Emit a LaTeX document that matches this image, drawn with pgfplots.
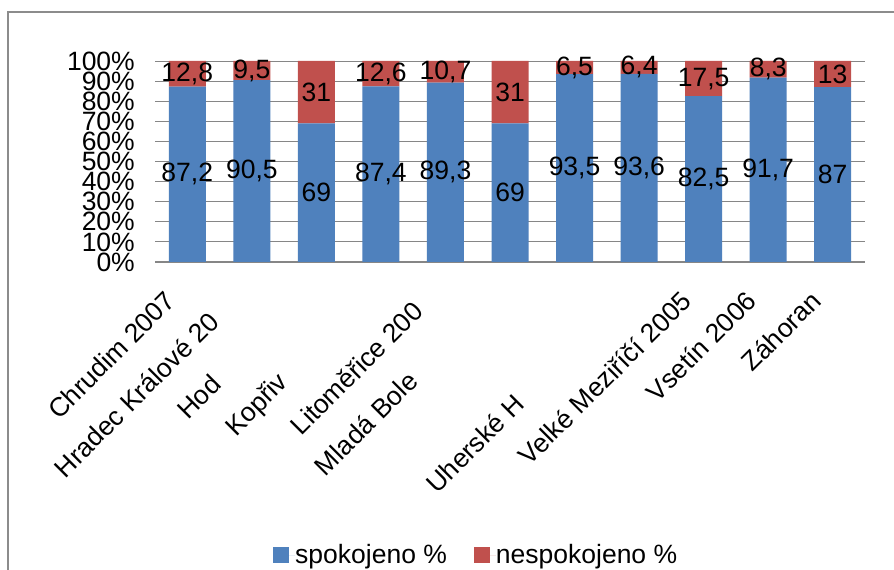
\documentclass[border=0pt]{standalone}
\usepackage{pgfplots}
\pgfplotsset{compat=1.18}
\usepackage{fontspec}
\setmainfont{Liberation Sans}
\definecolor{cBlue}{HTML}{4F81BD}
\definecolor{cRed}{HTML}{C0504D}
\definecolor{cGrid}{HTML}{868686}
\definecolor{cFrame}{HTML}{8C8C8C}
\newcommand{\bigf}{\fontsize{26.5bp}{30bp}\selectfont}
\begin{document}
\begin{tikzpicture}
\useasboundingbox (0,0) rectangle (894bp,570bp);
\fill[white] (0,0) rectangle (894bp,570bp);
\draw[cFrame, line width=1.5bp] (8bp,0) -- (8bp,558bp) -- (894bp,558bp);
\begin{axis}[
  at={(155bp,308bp)}, anchor=south west,
  scale only axis, width=710bp, height=201bp,
  ybar stacked, bar width=37bp,
  xmin=-0.5, xmax=10.5, ymin=0, ymax=100,
  enlargelimits=false,
  axis lines*=left,
  separate axis lines,
  y axis line style={draw=none},
  x axis line style={cGrid, line width=1.2bp},
  tick style={draw=none},
  ymajorgrids, grid style={cGrid, line width=0.8bp},
  ytick={0,10,...,100},
  yticklabels={0\%,10\%,20\%,30\%,40\%,50\%,60\%,70\%,80\%,90\%,100\%},
  yticklabel style={font=\bigf, anchor=east, inner sep=0pt, xshift=-20bp},
  xtick={0,...,10},
  xticklabels={Chrudim 2007,{Hradec Králové 20\phantom{07}},{Hod\phantom{onín 2007}},{Kopřiv\phantom{nice 2007}},{Litoměřice 200\phantom{7}},{Mladá Bole\phantom{slav 2007}},{},{Uherské H\phantom{radiště 2007}},Velké Meziříčí 2005,Vsetín 2006,Záhoran},
  xticklabel style={font=\bigf, inner sep=0pt, xshift=-24bp, yshift=-27bp, rotate=45, anchor=north east},
  nodes near coords={\pgfmathprintnumber{\pgfplotspointmeta}},
  every node near coord/.append style={font=\bigf, text=black, anchor=center, inner sep=0pt},
  /pgf/number format/.cd, use comma, fixed, precision=1, assume math mode=true,
  /pgfplots/.cd,
  legend columns=2,
  legend style={at={(0.451,-1.458)}, anchor=center, draw=none, fill=none, font=\bigf, inner sep=0pt,
    nodes={inner sep=0pt},
    /tikz/every even column/.append style={column sep=27bp}},
  legend image code/.code={\fill[#1] (0bp,-8bp) rectangle (16bp,8bp); \path (0bp,0bp) -- (22bp,0bp);},
]
\addplot[fill=cBlue, draw=none] coordinates {(0,87.2) (1,90.5) (2,69) (3,87.4) (4,89.3) (5,69) (6,93.5) (7,93.6) (8,82.5) (9,91.7) (10,87)};
\addplot[fill=cRed, draw=none] coordinates {(0,12.8) (1,9.5) (2,31) (3,12.6) (4,10.7) (5,31) (6,6.5) (7,6.4) (8,17.5) (9,8.3) (10,13)};
\legend{spokojeno \%, nespokojeno \%}
\end{axis}
\end{tikzpicture}
\end{document}
